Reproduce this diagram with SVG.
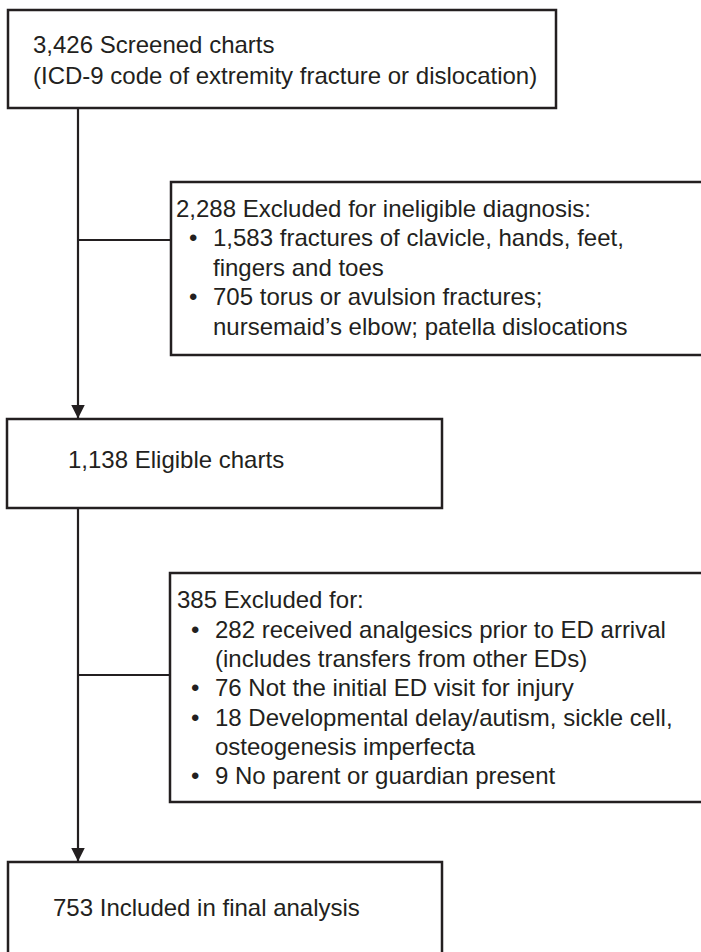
<svg xmlns="http://www.w3.org/2000/svg" width="701" height="952" viewBox="0 0 701 952">
<defs>
<style>
.box{fill:#ffffff;stroke:#231f20;stroke-width:2.5}
.t{font-family:"Liberation Sans",Arial,sans-serif;font-size:24px;fill:#231f20}
.ln{fill:none;stroke:#231f20;stroke-width:2.2}
</style>
<marker id="arr" markerUnits="userSpaceOnUse" markerWidth="14" markerHeight="20" refX="13.5" refY="7" orient="auto" viewBox="0 0 14 20">
<path d="M0,0 L14,7 L0,14 Z" fill="#231f20"/>
</marker>
</defs>
<rect width="701" height="952" fill="#ffffff"/>
<g id="connectors">
<line class="ln" x1="78" y1="108" x2="78" y2="418" marker-end="url(#arr)"/>
<line class="ln" x1="78" y1="240" x2="171" y2="240"/>
<line class="ln" x1="78" y1="508" x2="78" y2="861" marker-end="url(#arr)"/>
<line class="ln" x1="78" y1="675" x2="170" y2="675"/>
</g>
<g id="screened">
<rect class="box" x="8" y="10" width="548" height="98"/>
<text class="t" x="33" y="53">3,426 Screened charts</text>
<text class="t" x="33" y="84">(ICD-9 code of extremity fracture or dislocation)</text>
</g>
<g id="excluded-diagnosis">
<rect class="box" x="171" y="182" width="560" height="173"/>
<text class="t" x="176" y="217">2,288 Excluded for ineligible diagnosis:</text>
<text class="t" x="189" y="246">•</text>
<text class="t" x="213" y="246">1,583 fractures of clavicle, hands, feet,</text>
<text class="t" x="213" y="276">fingers and toes</text>
<text class="t" x="189" y="305">•</text>
<text class="t" x="213" y="305">705 torus or avulsion fractures;</text>
<text class="t" x="213" y="335">nursemaid’s elbow; patella dislocations</text>
</g>
<g id="eligible">
<rect class="box" x="7" y="419" width="435" height="89"/>
<text class="t" x="68" y="468">1,138 Eligible charts</text>
</g>
<g id="excluded-other">
<rect class="box" x="170" y="573" width="560" height="229"/>
<text class="t" x="177" y="608">385 Excluded for:</text>
<text class="t" x="191" y="638">•</text>
<text class="t" x="215" y="638">282 received analgesics prior to ED arrival</text>
<text class="t" x="215" y="667">(includes transfers from other EDs)</text>
<text class="t" x="191" y="696">•</text>
<text class="t" x="215" y="696">76 Not the initial ED visit for injury</text>
<text class="t" x="191" y="726">•</text>
<text class="t" x="215" y="726">18 Developmental delay/autism, sickle cell,</text>
<text class="t" x="215" y="755">osteogenesis imperfecta</text>
<text class="t" x="191" y="784">•</text>
<text class="t" x="215" y="784">9 No parent or guardian present</text>
</g>
<g id="included">
<rect class="box" x="8" y="862" width="434" height="110"/>
<text class="t" x="53" y="916">753 Included in final analysis</text>
</g>
</svg>
